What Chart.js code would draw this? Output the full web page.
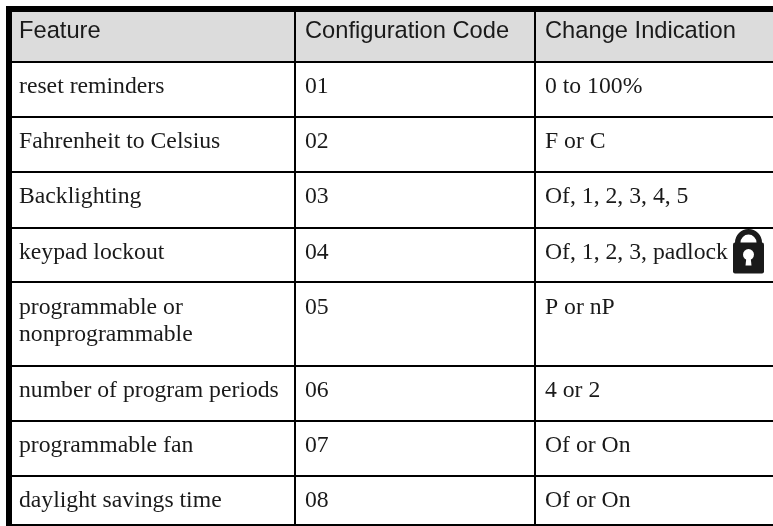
<!DOCTYPE html>
<html>
<head>
<meta charset="utf-8">
<style>
    html, body { margin: 0; padding: 0; background: #fff; }
    canvas { display: block; }
</style>
<script src="https://cdn.jsdelivr.net/npm/chart.js@4"></script>
</head>
<body>
<canvas id="tableChart" width="773" height="526"></canvas>
<script>
const headers = ["Feature", "Configuration Code", "Change Indication"];
const features = [
    "reset reminders",
    "Fahrenheit to Celsius",
    "Backlighting",
    "keypad lockout",
    ["programmable or", "nonprogrammable"],
    "number of program periods",
    "programmable fan",
    "daylight savings time"
];
const codes = ["01", "02", "03", "04", "05", "06", "07", "08"];
const changes = [
    "0 to 100%",
    "F or C",
    "Of, 1, 2, 3, 4, 5",
    "Of, 1, 2, 3, padlock",
    "P or nP",
    "4 or 2",
    "Of or On",
    "Of or On"
];

// Table edges, used as the ticks of both axes
const columnEdges = [9, 295, 535];
const rowEdges = [9, 62, 117, 172, 227.6, 282.4, 366, 421, 476, 525];

const HEADER_FONT = '23.7px "Liberation Sans"';
const BODY_FONT = '23.7px "Liberation Serif"';
const TEXT_COLOR = "#1a1a1a";

// Draws the cell text and the padlock, anchored on the scales
const cellText = {
    id: "cellText",
    afterDraw(chart) {
        const { ctx, scales: { x, y } } = chart;
        ctx.save();
        ctx.fillStyle = TEXT_COLOR;
        ctx.textBaseline = "alphabetic";

        ctx.font = HEADER_FONT;
        headers.forEach((text, c) => {
            ctx.fillText(text, x.getPixelForValue(columnEdges[c]) + 10, y.getPixelForValue(rowEdges[0]) + 29);
        });

        ctx.font = BODY_FONT;
        [features, codes, changes].forEach((column, c) => {
            column.forEach((cell, r) => {
                const lines = Array.isArray(cell) ? cell : [cell];
                lines.forEach((line, l) => {
                    ctx.fillText(line,
                        x.getPixelForValue(columnEdges[c]) + 10,
                        y.getPixelForValue(rowEdges[r + 1]) + 31.3 + l * 27.5);
                });
            });
        });

        // padlock after the keypad lockout text
        const lx = x.getPixelForValue(columnEdges[2]) + 198;
        const ly = y.getPixelForValue(rowEdges[4]);
        ctx.strokeStyle = TEXT_COLOR;
        ctx.lineWidth = 5.5;
        ctx.beginPath();
        ctx.moveTo(lx + 4.75, ly + 17);
        ctx.arc(lx + 15.5, ly + 15, 10.75, Math.PI, 0);
        ctx.lineTo(lx + 26.25, ly + 17);
        ctx.stroke();
        ctx.beginPath();
        ctx.roundRect(lx, ly + 15, 31, 31, 2);
        ctx.fill();
        ctx.fillStyle = "#fff";
        ctx.beginPath();
        ctx.arc(lx + 15.5, ly + 27, 5.5, 0, Math.PI * 2);
        ctx.fill();
        ctx.beginPath();
        ctx.moveTo(lx + 13.5, ly + 29);
        ctx.lineTo(lx + 17.5, ly + 29);
        ctx.lineTo(lx + 18.5, ly + 38);
        ctx.lineTo(lx + 12.5, ly + 38);
        ctx.closePath();
        ctx.fill();
        ctx.restore();
    }
};

const ctx = document.getElementById("tableChart").getContext("2d");

new Chart(ctx, {
    type: "scatter",
    plugins: [cellText],
    data: {
        datasets: [{
            // header band, filled up to the top axis
            data: [{ x: 9, y: rowEdges[1] }, { x: 773, y: rowEdges[1] }],
            showLine: true,
            borderWidth: 0,
            pointRadius: 0,
            backgroundColor: "#dcdcdc",
            fill: "end"
        }]
    },
    options: {
        responsive: false,
        animation: false,
        layout: { padding: { left: 9, top: 9, right: 0, bottom: 1 } },
        plugins: {
            legend: { display: false },
            title: { display: false },
            tooltip: { enabled: false }
        },
        scales: {
            x: {
                type: "linear",
                position: "top",
                min: 9,
                max: 773,
                afterBuildTicks: axis => { axis.ticks = columnEdges.map(value => ({ value })); },
                ticks: { display: false },
                border: { display: true, color: "#000", width: 6, z: 1 },
                grid: { color: "#000", lineWidth: 2, drawTicks: false, z: 1 }
            },
            y: {
                type: "linear",
                reverse: true,
                min: 9,
                max: 525,
                afterBuildTicks: axis => { axis.ticks = rowEdges.map(value => ({ value })); },
                ticks: { display: false },
                border: { display: true, color: "#000", width: 6, z: 1 },
                grid: { color: "#000", lineWidth: 2, drawTicks: false, z: 1 }
            }
        }
    }
});
</script>
</body>
</html>
